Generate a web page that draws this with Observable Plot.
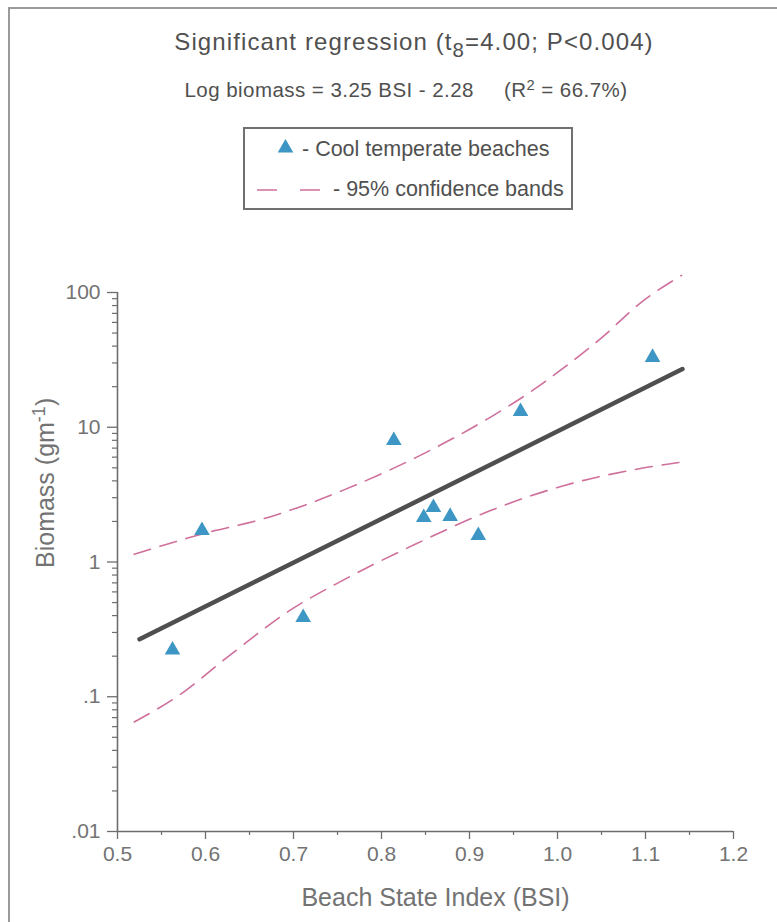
<!DOCTYPE html>
<html>
<head>
<meta charset="utf-8">
<script src="https://cdn.jsdelivr.net/npm/d3@7"></script>
<script src="https://cdn.jsdelivr.net/npm/@observablehq/plot@0.6"></script>
<style>
  body { margin: 0; background: #fff; }
  #page { position: relative; width: 777px; height: 922px; overflow: hidden;
          font-family: "Liberation Sans", Arial, sans-serif; color: #505050; }
  .frame { position: absolute; left: 8px; top: 7px; width: 800px; height: 940px;
           border-left: 2px solid #9a9a9a; border-top: 2px solid #9a9a9a; }
  .hd { position: absolute; white-space: nowrap; line-height: 1; }
  #title { left: 414px; top: 30px; font-size: 24px; letter-spacing: 1.1px; transform: translateX(-50%); }
  #subtitle { left: 406px; top: 80px; font-size: 20.5px; letter-spacing: 0.45px; transform: translateX(-50%); }
  .sub { position: relative; top: 7px; font-size: 0.85em; }
  .sup { position: relative; top: -7px; font-size: 0.72em; }
  #legend { position: absolute; left: 243px; top: 127px; width: 326px; height: 79px;
            border: 2px solid #707070; }
  .lg { position: absolute; white-space: nowrap; line-height: 1; font-size: 21.5px; }
  #chart { position: absolute; left: 0; top: 230px; }
</style>
</head>
<body>
<div id="page">
  <div class="frame"></div>
  <div id="title" class="hd">Significant regression (t<span class="sub">8</span>=4.00; P&lt;0.004)</div>
  <div id="subtitle" class="hd">Log biomass = 3.25 BSI - 2.28<span style="display:inline-block;width:30px"></span>(R<span class="sup">2</span> = 66.7%)</div>
  <div id="legend"></div>
  <svg id="legendMarks" width="777" height="230" style="position:absolute;left:0;top:0"></svg>
  <div class="lg" style="left:302px;top:139px">- Cool temperate beaches</div>
  <div class="lg" style="left:333px;top:179px">- 95% confidence bands</div>
  <div id="chart"></div>
</div>
<script>
// Beach State Index and biomass for each cool temperate beach
const bsi = [0.5625, 0.596, 0.711, 0.814, 0.848, 0.859, 0.878, 0.910, 0.958, 1.108];
const biomass = [0.222, 1.71, 0.388, 7.98, 2.14, 2.54, 2.18, 1.57, 13.1, 33.0];

// Fitted regression: log biomass = 3.25 BSI - 2.28
const slope = 3.25;
const intercept = -2.28;
const fitBsi = [0.525, 1.142];

// 95% confidence bands around the fit
const upperBsi = [0.519, 0.597, 0.672, 0.756, 0.840, 0.924, 0.966, 1.008, 1.051, 1.093, 1.141];
const upperBiomass = [1.14, 1.62, 2.15, 3.40, 6.0, 11.9, 17.7, 27.9, 46.6, 82.4, 134];
const lowerBsi = [0.519, 0.567, 0.630, 0.693, 0.756, 0.840, 0.924, 1.008, 1.093, 1.141];
const lowerBiomass = [0.065, 0.0995, 0.209, 0.425, 0.731, 1.37, 2.41, 3.70, 4.92, 5.51];

// Axis ticks and labels
const xTicks = [0.5, 0.6, 0.7, 0.8, 0.9, 1.0, 1.1, 1.2];
const xMinorTicks = [0.55, 0.65, 0.75, 0.85, 0.95, 1.05, 1.15];
const yTicks = [0.01, 0.1, 1, 10, 100];
const yTickLabels = [".01", ".1", "1", "10", "100"];
const yMinorTicks = [0.01, 0.1, 1, 10].flatMap(d => [2, 3, 4, 5, 6, 7, 8, 9].map(k => +(d * k).toPrecision(3)));

const xTitle = "Beach State Index (BSI)";
const yTitle = "Biomass (gm-1)";

const pointColor = "#3d96c3";
const bandColor = "#cf6f9c";
const fitColor = "#4f4f4f";
const axisColor = "#6e6e6e";
const labelColor = "#737373";

const points = bsi.map((x, i) => ({x, y: biomass[i]}));
const fit = fitBsi.map(x => ({x, y: Math.pow(10, slope * x + intercept)}));
const upper = upperBsi.map((x, i) => ({x, y: upperBiomass[i]}));
const lower = lowerBsi.map((x, i) => ({x, y: lowerBiomass[i]}));

const chart = Plot.plot({
  width: 777,
  height: 692,
  marginLeft: 117,
  marginRight: 44,
  marginTop: 62,
  marginBottom: 91,
  x: {domain: [0.5, 1.2]},
  y: {type: "log", domain: [0.01, 100]},
  style: {fontFamily: "'Liberation Sans', Arial, sans-serif", background: "transparent", color: labelColor},
  marks: [
    Plot.axisX(xTicks, {tickSize: 8, tickPadding: 7, tickFormat: d => d.toFixed(1), fontSize: 21,
      stroke: axisColor, fill: labelColor, strokeWidth: 1.3, label: null}),
    Plot.axisX(xMinorTicks, {tickSize: 4, tickFormat: () => "", stroke: axisColor, strokeWidth: 1.2, label: null}),
    Plot.axisY(yTicks, {tickSize: 10, tickPadding: 7, tickFormat: d => yTickLabels[yTicks.indexOf(d)], fontSize: 21,
      stroke: axisColor, fill: labelColor, strokeWidth: 1.3, label: null}),
    Plot.axisY(yMinorTicks, {tickSize: 5, tickFormat: () => "", stroke: axisColor, strokeWidth: 1.2, label: null}),
    Plot.ruleX([0.5], {y1: 0.01, y2: 100, stroke: axisColor, strokeWidth: 1.6}),
    Plot.ruleY([0.01], {x1: 0.5, x2: 1.2, stroke: axisColor, strokeWidth: 1.6}),
    Plot.line(upper, {x: "x", y: "y", curve: "monotone-x", stroke: bandColor, strokeWidth: 1.6, strokeDasharray: "17,10"}),
    Plot.line(lower, {x: "x", y: "y", curve: "monotone-x", stroke: bandColor, strokeWidth: 1.6, strokeDasharray: "17,10"}),
    Plot.line(fit, {x: "x", y: "y", stroke: fitColor, strokeWidth: 4.5, strokeLinecap: "round"}),
    Plot.dot(points, {x: "x", y: "y", symbol: "triangle", r: 5.8, fill: pointColor, stroke: null}),
    Plot.text([xTitle], {text: d => d, frameAnchor: "bottom", dy: 74, dx: 10, fontSize: 25, fill: labelColor}),
    Plot.text([yTitle], {text: d => d, frameAnchor: "left", rotate: -90, dx: -72, dy: 6, fontSize: 25, fill: labelColor})
  ]
});
document.getElementById("chart").appendChild(chart);

// Superscript for the unit in the y-axis title
d3.select(chart).selectAll("text")
  .filter(function () { return this.textContent === yTitle; })
  .each(function () {
    const t = d3.select(this);
    t.text(null);
    t.append("tspan").text("Biomass (gm");
    t.append("tspan").attr("dy", "-0.45em").attr("font-size", "0.72em").text("-1");
    t.append("tspan").attr("dy", "0.33em").text(")");
  });

// Legend glyphs: a triangle and a dashed segment
const lg = d3.select("#legendMarks");
lg.append("path")
  .attr("d", d3.symbol(d3.symbolTriangle, Math.PI * 5.8 * 5.8)())
  .attr("transform", "translate(285.5,148)")
  .attr("fill", pointColor);
lg.append("line").attr("x1", 257).attr("x2", 321).attr("y1", 190).attr("y2", 190)
  .attr("stroke", bandColor).attr("stroke-width", 1.6).attr("stroke-dasharray", "20,23");
</script>
</body>
</html>
